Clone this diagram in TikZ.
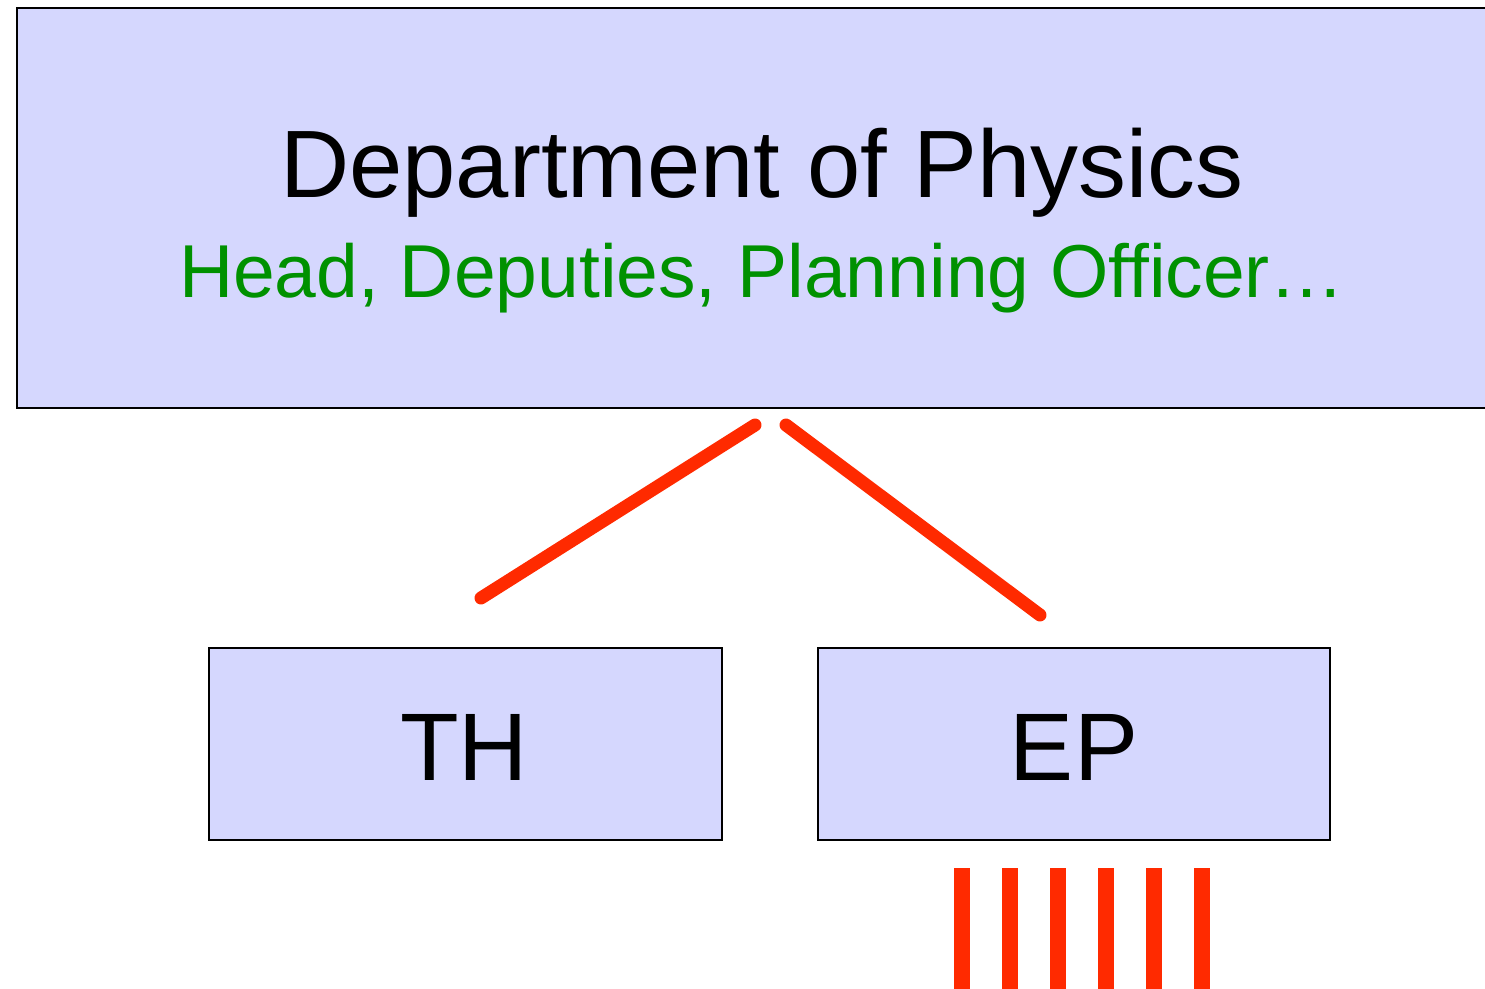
\documentclass[tikz,border=0pt]{standalone}
\usepackage{fontspec}
\setmainfont{Liberation Sans}
\definecolor{boxfill}{RGB}{213,215,254}
\definecolor{linered}{RGB}{255,42,0}
\definecolor{subgreen}{RGB}{0,145,0}
\tikzset{
  unitbox/.style={draw=black, line width=1.5pt, fill=boxfill, rectangle, inner sep=0pt},
  label text/.style={inner sep=0pt, anchor=base},
  branch/.style={draw=linered, line width=13pt, line cap=round},
  bar/.style={draw=linered, line width=16pt}
}
\begin{document}
\begin{tikzpicture}[x=1pt,y=-1pt]
\clip (0,0) rectangle (1485,988);
\fill[white] (0,0) rectangle (1485,988);
\node[unitbox, minimum width=1500pt, minimum height=400pt] (dept) at (767,208) {};
\node[label text, font=\fontsize{95.8}{100}\selectfont] (title) at (762,197) {Department of Physics};
\node[label text, font=\fontsize{75}{80}\selectfont, text=subgreen] (sub) at (762,297) {Head, Deputies, Planning Officer…};
\node[unitbox, minimum width=513pt, minimum height=192pt] (th) at (465.5,744) {};
\node[label text, font=\fontsize{96}{100}\selectfont] (thtext) at (464,780) {TH};
\node[unitbox, minimum width=512pt, minimum height=192pt] (ep) at (1074,744) {};
\node[label text, font=\fontsize{96}{100}\selectfont] (eptext) at (1074,780) {EP};
\coordinate (l1) at (755,425);
\coordinate (l2) at (481,598);
\coordinate (r1) at (786,425);
\coordinate (r2) at (1040,615);
\draw[branch] (l1) -- (l2);
\draw[branch] (r1) -- (r2);
\foreach \i/\x in {1/962,2/1010,3/1058,4/1106,5/1154,6/1202} {
  \coordinate (bt\i) at (\x,868);
  \coordinate (bb\i) at (\x,995);
  \draw[bar] (bt\i) -- (bb\i);
}
\end{tikzpicture}
\end{document}
